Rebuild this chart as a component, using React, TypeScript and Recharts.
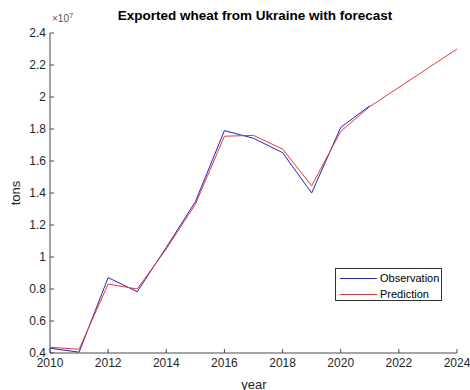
import React from "react";
import { LineChart, Line, XAxis, YAxis, Legend } from "recharts";

const years = [2010, 2011, 2012, 2013, 2014, 2015, 2016, 2017, 2018, 2019, 2020, 2021, 2022, 2023, 2024];
const observation = [0.43, 0.405, 0.871, 0.783, 1.06, 1.345, 1.79, 1.742, 1.652, 1.4, 1.81, 1.945, null, null, null];
const prediction = [0.436, 0.423, 0.831, 0.8, 1.05, 1.33, 1.755, 1.76, 1.675, 1.445, 1.785, 1.94, 2.06, 2.18, 2.3];
const xTicks = [2010, 2012, 2014, 2016, 2018, 2020, 2022, 2024];
const yTicks = [0.4, 0.6, 0.8, 1, 1.2, 1.4, 1.6, 1.8, 2, 2.2, 2.4];
const SCALE = 1e7;

const data = years.map((y, i) => ({
  year: y,
  obs: observation[i] == null ? null : (observation[i] as number) * SCALE,
  pred: prediction[i] == null ? null : (prediction[i] as number) * SCALE,
}));

const AX = "#4a4a4a";
const TXT = "#262626";
const FONT = "'Liberation Sans', Arial, Helvetica, sans-serif";
const BLUE = "#2323c0";
const RED = "#e23a3a";
const TL = 4;

const fmtY = (v: number) => String(Number((v / SCALE).toFixed(1)));

const XTickBottom = (p: any) => (
  <g>
    <line x1={p.x} y1={p.y} x2={p.x} y2={p.y - TL} stroke={AX} strokeWidth={1} />
    <text x={p.x} y={p.y + 14} textAnchor="middle" fontSize={12} fontFamily={FONT} fill={TXT}>
      {p.payload.value}
    </text>
  </g>
);
const XTickTop = (p: any) => (
  <line x1={p.x} y1={p.y} x2={p.x} y2={p.y + TL} stroke={AX} strokeWidth={1} />
);
const YTickLeft = (p: any) => (
  <g>
    <line x1={p.x} y1={p.y} x2={p.x + TL} y2={p.y} stroke={AX} strokeWidth={1} />
    <text x={p.x - 4} y={p.y + 4} textAnchor="end" fontSize={12} fontFamily={FONT} fill={TXT}>
      {fmtY(p.payload.value)}
    </text>
  </g>
);
const YTickRight = (p: any) => (
  <line x1={p.x} y1={p.y} x2={p.x - TL} y2={p.y} stroke={AX} strokeWidth={1} />
);

const LegendBox = () => (
  <div
    style={{
      position: "absolute",
      left: 335,
      top: 268,
      width: 107,
      height: 33,
      border: "1px solid #333",
      background: "#fff",
      fontFamily: FONT,
      fontSize: 11,
      color: "#000",
      boxSizing: "border-box",
    }}
  >
    {[
      { c: BLUE, t: "Observation" },
      { c: RED, t: "Prediction" },
    ].map((e, i) => (
      <div key={i} style={{ position: "absolute", left: 4, top: 2 + i * 16, height: 14, display: "flex", alignItems: "center" }}>
        <div style={{ width: 37, height: 1, background: e.c, marginRight: 3 }} />
        <span>{e.t}</span>
      </div>
    ))}
  </div>
);

export default function App() {
  return (
    <div style={{ position: "absolute", left: 0, top: 0, width: 470, height: 390, background: "#fff", overflow: "hidden" }}>
      <LineChart width={470} height={390} data={data} margin={{ top: 33, right: 13, left: 0, bottom: 0 }}>
        <XAxis
          dataKey="year"
          type="number"
          domain={[2010, 2024]}
          ticks={xTicks}
          interval={0}
          height={37}
          tickSize={0}
          tickMargin={0}
          tickLine={false}
          axisLine={{ stroke: AX }}
          tick={<XTickBottom />}
          allowDataOverflow
        />
        <XAxis
          xAxisId="top"
          orientation="top"
          dataKey="year"
          type="number"
          domain={[2010, 2024]}
          ticks={xTicks}
          interval={0}
          height={0}
          tickSize={0}
          tickMargin={0}
          tickLine={false}
          axisLine={{ stroke: AX }}
          tick={<XTickTop />}
        />
        <YAxis
          type="number"
          domain={[0.4 * SCALE, 2.4 * SCALE]}
          ticks={yTicks.map((t) => t * SCALE)}
          interval={0}
          width={50}
          tickSize={0}
          tickMargin={0}
          tickLine={false}
          axisLine={{ stroke: AX }}
          tick={<YTickLeft />}
          allowDataOverflow
        />
        <YAxis
          yAxisId="right"
          orientation="right"
          type="number"
          domain={[0.4 * SCALE, 2.4 * SCALE]}
          ticks={yTicks.map((t) => t * SCALE)}
          interval={0}
          width={0}
          tickSize={0}
          tickMargin={0}
          tickLine={false}
          axisLine={{ stroke: AX }}
          tick={<YTickRight />}
        />
        <Line dataKey="obs" name="Observation" stroke={BLUE} strokeWidth={1} dot={false} isAnimationActive={false} />
        <Line dataKey="pred" name="Prediction" stroke={RED} strokeWidth={1} dot={false} isAnimationActive={false} />
        <Legend content={() => null} />
      </LineChart>
      <LegendBox />
      <div style={{ position: "absolute", left: 0, width: 510, top: 8, textAlign: "center", fontFamily: FONT, fontWeight: "bold", fontSize: 13.5, color: "#000" }}>
        Exported wheat from Ukraine with forecast
      </div>
      <div style={{ position: "absolute", left: 52, top: 11, fontFamily: FONT, fontSize: 10, color: "#555" }}>
        ×10<sup style={{ fontSize: 8 }}>7</sup>
      </div>
      <div style={{ position: "absolute", left: 15, top: 193, transform: "translate(-50%, -50%) rotate(-90deg)", fontFamily: FONT, fontSize: 13, color: TXT }}>
        tons
      </div>
      <div style={{ position: "absolute", left: 254, top: 377, transform: "translateX(-50%)", fontFamily: FONT, fontSize: 13, color: TXT }}>
        year
      </div>
    </div>
  );
}
